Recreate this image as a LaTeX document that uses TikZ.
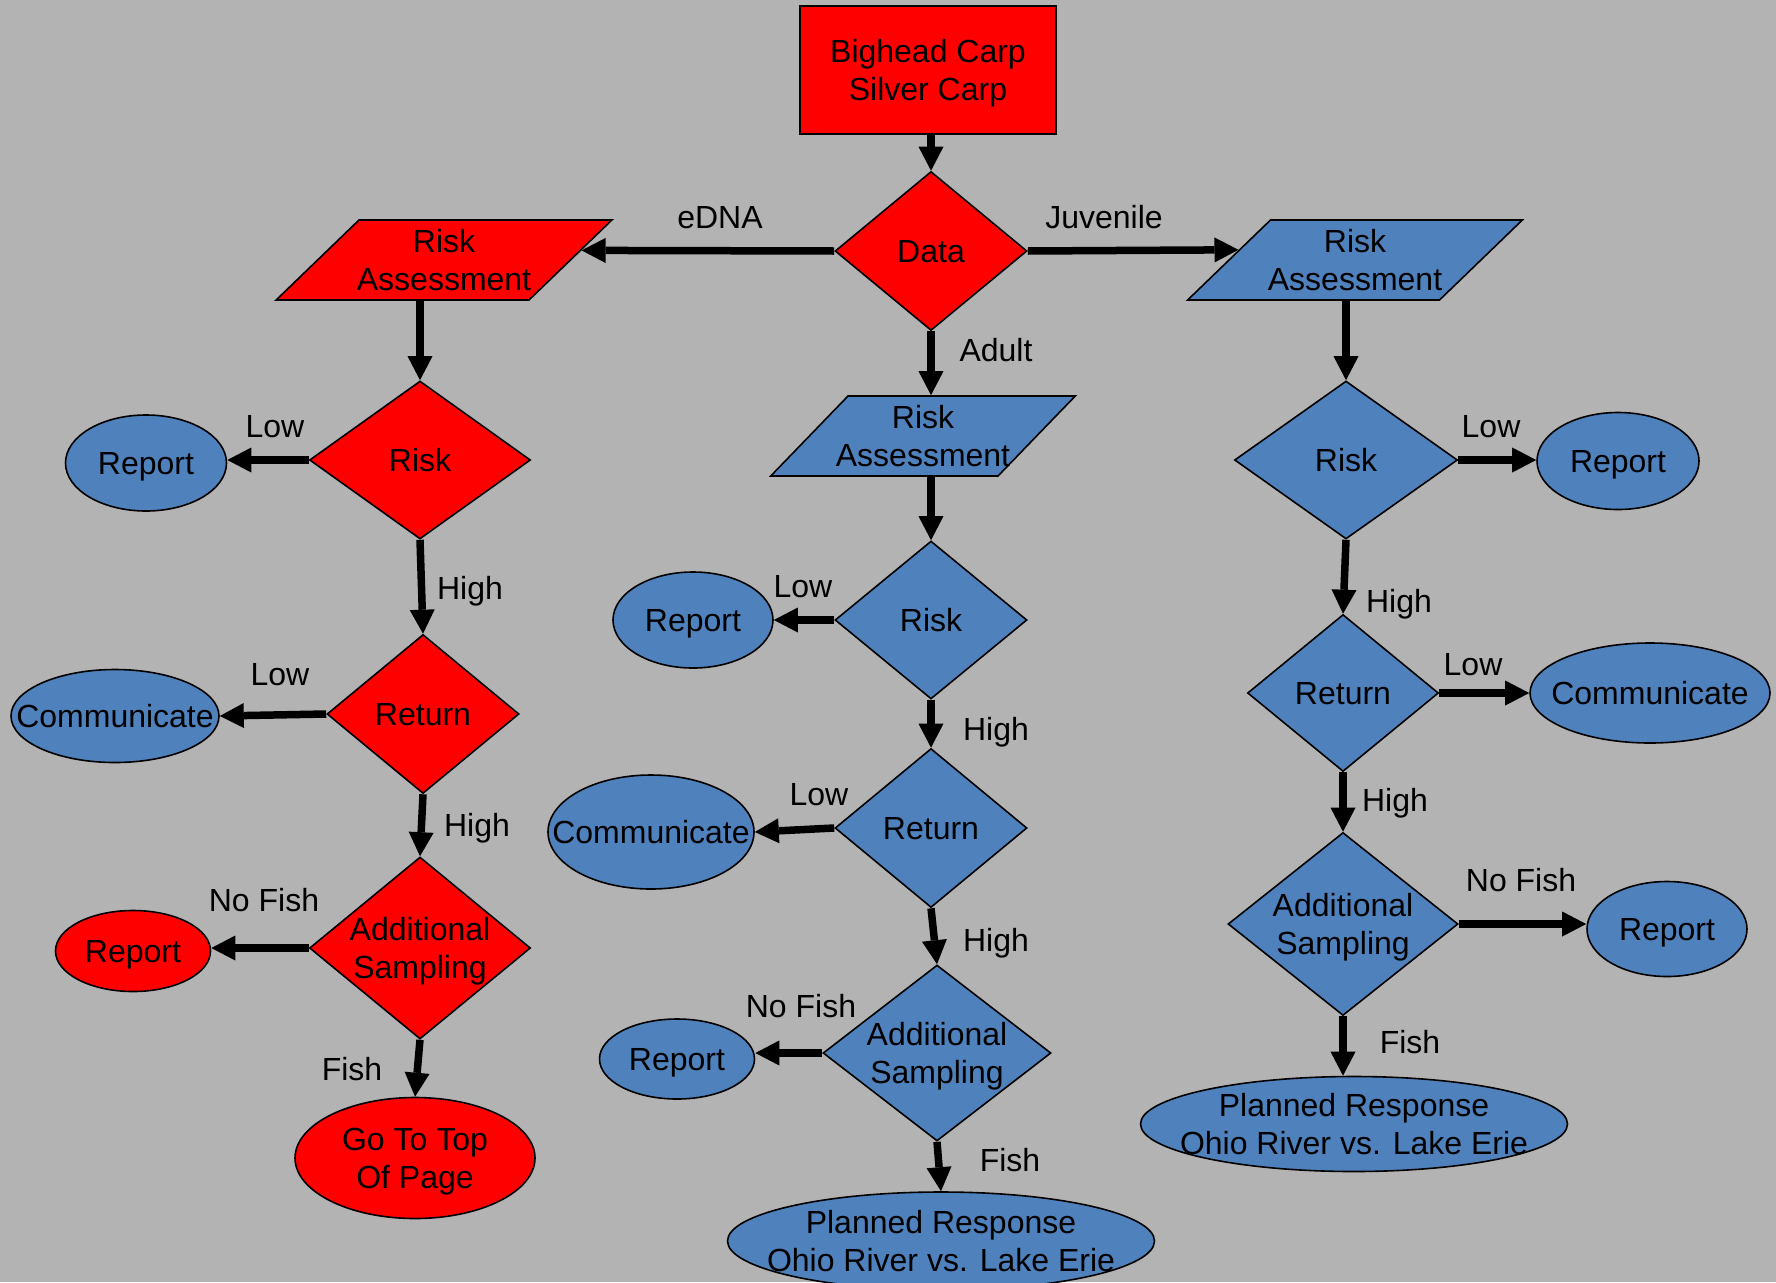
\documentclass[tikz,border=0pt]{standalone}
\usepackage{fontspec}
\setmainfont{Liberation Sans}
\usetikzlibrary{shapes.geometric,arrows.meta}

\definecolor{carpred}{RGB}{255,0,0}
\definecolor{carpblue}{RGB}{79,129,189}
\definecolor{slidegray}{RGB}{179,179,179}

\begin{document}
\begin{tikzpicture}[x=1pt,y=1pt,yscale=-1,xscale=1,
  font=\fontsize{32}{38}\selectfont,
  outline/.style={draw=black, line width=1.6pt, inner sep=0pt},
  decision/.style={outline, diamond},
  oval/.style={outline, ellipse},
  slanted/.style={outline, trapezium, trapezium left angle=44, trapezium right angle=136, text height=80pt, text depth=0pt},
  txt/.style={align=center, inner sep=0pt, text depth=0pt},
  flow/.style={line width=7.5pt, -{Triangle[width=25pt,length=24pt,line width=0pt]}}
]
%set diagram to the slide, 1776 by 1282
\path[use as bounding box, fill=slidegray] (0,0) rectangle (1776,1282);

%Shape: Rectangle [start]
\node[outline, rectangle, fill=carpred, minimum width=256pt, minimum height=128pt] (carp) at (928,70) {};
%Shape: Diamond [data]
\node[decision, fill=carpred, minimum width=192pt, minimum height=159pt] (data) at (931,251) {};
%Shape: Parallelogram [eDNA / adult / juvenile]
\node[slanted, fill=carpred] (assessL) at (444,260) {\hspace*{170pt}};
\node[slanted, fill=carpblue, trapezium left angle=46, trapezium right angle=134] (assessM) at (923,436) {\hspace*{150pt}};
\node[slanted, fill=carpblue] (assessR) at (1355,260) {\hspace*{169pt}};

%Shape: left column
\node[decision, fill=carpred, minimum width=221pt, minimum height=158pt] (riskL) at (420,460) {};
\node[oval, fill=carpblue, minimum width=161pt, minimum height=96pt] (reportL) at (146,463) {};
\node[decision, fill=carpred, minimum width=192pt, minimum height=159pt] (returnL) at (423,714) {};
\node[oval, fill=carpblue, minimum width=208pt, minimum height=93pt] (commL) at (115,716) {};
\node[decision, fill=carpred, minimum width=221pt, minimum height=182pt] (sampleL) at (420,948) {};
\node[oval, fill=carpred, minimum width=155pt, minimum height=81pt] (nofishL) at (133,951) {};
\node[oval, fill=carpred, minimum width=240pt, minimum height=121pt] (gotop) at (415,1158) {};

%Shape: middle column
\node[decision, fill=carpblue, minimum width=192pt, minimum height=158pt] (riskM) at (931,620) {};
\node[oval, fill=carpblue, minimum width=160pt, minimum height=96pt] (reportM) at (693,620) {};
\node[decision, fill=carpblue, minimum width=192pt, minimum height=159pt] (returnM) at (931,828) {};
\node[oval, fill=carpblue, minimum width=206pt, minimum height=114pt] (commM) at (651,832) {};
\node[decision, fill=carpblue, minimum width=228pt, minimum height=176pt] (sampleM) at (937,1053) {};
\node[oval, fill=carpblue, minimum width=155pt, minimum height=80pt] (nofishM) at (677,1059) {};
\node[oval, fill=carpblue, minimum width=427pt, minimum height=98pt] (planM) at (941,1241) {};

%Shape: right column
\node[decision, fill=carpblue, minimum width=223pt, minimum height=158pt] (riskR) at (1346,460) {};
\node[oval, fill=carpblue, minimum width=162pt, minimum height=97pt] (reportR) at (1618,461) {};
\node[decision, fill=carpblue, minimum width=191pt, minimum height=157pt] (returnR) at (1343,693) {};
\node[oval, fill=carpblue, minimum width=240pt, minimum height=100pt] (commR) at (1650,693) {};
\node[decision, fill=carpblue, minimum width=230pt, minimum height=183pt] (sampleR) at (1343,924) {};
\node[oval, fill=carpblue, minimum width=160pt, minimum height=95pt] (nofishR) at (1667,929) {};
\node[oval, fill=carpblue, minimum width=427pt, minimum height=95pt] (planR) at (1354,1124) {};

%Arrows
\draw[flow] (data.north |- carp.south) -- (data.north);
\draw[flow] (data.west) -- (assessL.4);
\draw[flow] (data.east) -- (assessR.175.6);
\draw[flow] (data.south) -- (data.south |- assessM.north);
\draw[flow] (riskL.north |- assessL.south) -- (riskL.north);
\draw[flow] (riskM.north |- assessM.south) -- (riskM.north);
\draw[flow] (riskR.north |- assessR.south) -- (riskR.north);
% left
\draw[flow] (riskL.west) -- (riskL.west -| reportL.east);
\draw[flow] (riskL.south) -- (returnL.north);
\draw[flow] (returnL.west) -- (commL.east);
\draw[flow] (returnL.south) -- (sampleL.north);
\draw[flow] (sampleL.west) -- (sampleL.west -| nofishL.east);
\draw[flow] (sampleL.south) -- (gotop.north);
% middle
\draw[flow] (riskM.west) -- (riskM.west -| reportM.east);
\draw[flow] (riskM.south) -- (returnM.north);
\draw[flow] (returnM.west) -- (commM.east);
\draw[flow] (returnM.south) -- (sampleM.north);
\draw[flow] (sampleM.west) -- (sampleM.west -| nofishM.east);
\draw[flow] (sampleM.south) -- (planM.north);
% right
\draw[flow] (riskR.east) -- (riskR.east -| reportR.west);
\draw[flow] (riskR.south) -- (returnR.north);
\draw[flow] (returnR.east) -- (commR.west);
\draw[flow] (returnR.south) -- (sampleR.north);
\draw[flow] (sampleR.east) -- (sampleR.east -| nofishR.west);
\draw[flow] (sampleR.south) -- (sampleR.south |- planR.north);

% Text Node
\node[txt] (carp-t) at (carp) {Bighead Carp\\Silver Carp};
% Text Node
\node[txt] (data-t) at (data) {Data};
% Text Node
\node[txt] (assessL-t) at (assessL) {Risk\\Assessment};
% Text Node
\node[txt] (assessM-t) at (assessM) {Risk\\Assessment};
% Text Node
\node[txt] (assessR-t) at (assessR) {Risk\\Assessment};
% Text Node
\node[txt] (riskL-t) at (riskL) {Risk};
\node[txt] (reportL-t) at (reportL) {Report};
\node[txt] (returnL-t) at (returnL) {Return};
\node[txt] (commL-t) at (commL) {Communicate};
\node[txt] (sampleL-t) at (sampleL) {Additional\\Sampling};
\node[txt] (nofishL-t) at (nofishL) {Report};
\node[txt] (gotop-t) at (gotop) {Go To Top\\Of Page};
% Text Node
\node[txt] (riskM-t) at (riskM) {Risk};
\node[txt] (reportM-t) at (reportM) {Report};
\node[txt] (returnM-t) at (returnM) {Return};
\node[txt] (commM-t) at (commM) {Communicate};
\node[txt] (sampleM-t) at (sampleM) {Additional\\Sampling};
\node[txt] (nofishM-t) at (nofishM) {Report};
\node[txt] (planM-t) at (planM) {Planned Response\\Ohio River vs. Lake Erie};
% Text Node
\node[txt] (riskR-t) at (riskR) {Risk};
\node[txt] (reportR-t) at (reportR) {Report};
\node[txt] (returnR-t) at (returnR) {Return};
\node[txt] (commR-t) at (commR) {Communicate};
\node[txt] (sampleR-t) at (sampleR) {Additional\\Sampling};
\node[txt] (nofishR-t) at (nofishR) {Report};
\node[txt] (planR-t) at (planR) {Planned Response\\Ohio River vs. Lake Erie};

% Text Node [branch labels]
\node[txt] (lbl-edna) at (720,217) {eDNA};
\node[txt] (lbl-juv) at (1104,217) {Juvenile};
\node[txt] (lbl-adult) at (996,350) {Adult};
\node[txt] (lbl-lowL1) at (275,426) {Low};
\node[txt] (lbl-highL1) at (470,588) {High};
\node[txt] (lbl-lowL2) at (280,674) {Low};
\node[txt] (lbl-highL2) at (477,825) {High};
\node[txt] (lbl-nofishL) at (264,900) {No Fish};
\node[txt] (lbl-fishL) at (352,1069) {Fish};
\node[txt] (lbl-lowM1) at (803,586) {Low};
\node[txt] (lbl-highM1) at (996,729) {High};
\node[txt] (lbl-lowM2) at (819,794) {Low};
\node[txt] (lbl-highM2) at (996,940) {High};
\node[txt] (lbl-nofishM) at (801,1006) {No Fish};
\node[txt] (lbl-fishM) at (1010,1160) {Fish};
\node[txt] (lbl-lowR1) at (1491,426) {Low};
\node[txt] (lbl-highR1) at (1399,601) {High};
\node[txt] (lbl-lowR2) at (1473,664) {Low};
\node[txt] (lbl-highR2) at (1395,800) {High};
\node[txt] (lbl-nofishR) at (1521,880) {No Fish};
\node[txt] (lbl-fishR) at (1410,1042) {Fish};
\end{tikzpicture}
\end{document}
